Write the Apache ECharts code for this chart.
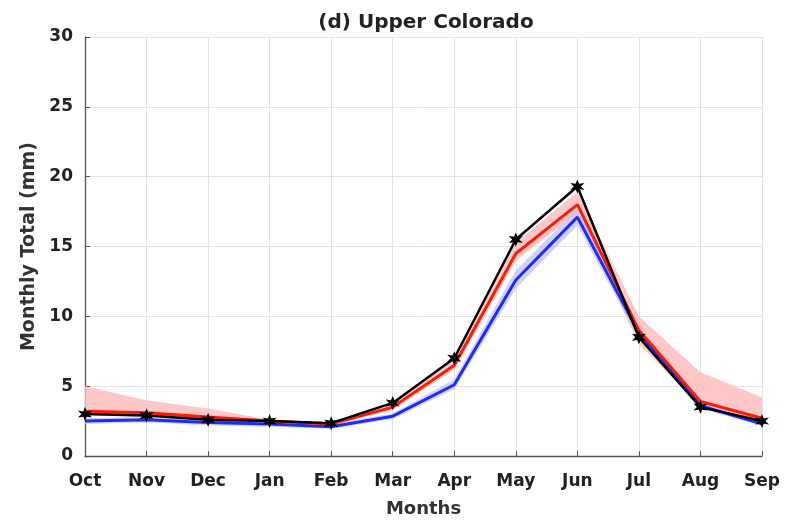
<!DOCTYPE html>
<html>
<head>
<meta charset="utf-8">
<script src="https://cdn.jsdelivr.net/npm/echarts@6/dist/echarts.min.js"></script>
<style>
  html, body { margin: 0; padding: 0; background: #fff; }
  #chart { width: 796px; height: 524px; }
</style>
</head>
<body>
<div id="chart"></div>
<script>
// Monthly totals (mm), water-year order
const months = ['Oct', 'Nov', 'Dec', 'Jan', 'Feb', 'Mar', 'Apr', 'May', 'Jun', 'Jul', 'Aug', 'Sep'];
const observed = [3.0, 2.9, 2.6, 2.5, 2.35, 3.8, 7.0, 15.5, 19.3, 8.5, 3.5, 2.5];
const redMean  = [3.2, 3.1, 2.8, 2.5, 2.3, 3.5, 6.5, 14.5, 18.0, 9.0, 3.9, 2.7];
const redLow   = [2.9, 2.8, 2.6, 2.4, 2.2, 3.3, 6.2, 14.0, 17.4, 8.0, 3.6, 2.5];
const redHigh  = [5.0, 4.0, 3.4, 2.6, 2.4, 3.7, 7.0, 15.3, 18.9, 10.0, 6.0, 4.2];
const blueMean = [2.5, 2.6, 2.4, 2.3, 2.1, 2.85, 5.1, 12.6, 17.1, 8.8, 3.6, 2.3];
const blueLow  = [2.3, 2.4, 2.2, 2.1, 1.95, 2.65, 4.8, 12.0, 16.5, 8.4, 3.4, 2.15];
const blueHigh = [2.7, 2.8, 2.6, 2.5, 2.3, 3.05, 5.5, 13.3, 17.7, 9.2, 3.8, 2.45];

const diff = (hi, lo) => hi.map((v, i) => +(v - lo[i]).toFixed(3));

const starPath = 'path://M50,0 L61,31 L93,25 L72,50 L93,75 L61,69 L50,100 L39,69 L7,75 L28,50 L7,25 L39,31 Z';
const fontFam = '"DejaVu Sans", Verdana, sans-serif';

// shaded range drawn as a transparent base plus a stacked filled height
function band(name, lo, hi, color) {
  return [
    { name: name + '-base', type: 'line', data: lo, stack: name, symbol: 'none',
      lineStyle: { opacity: 0 }, silent: true, z: 1 },
    { name: name + '-range', type: 'line', data: diff(hi, lo), stack: name, symbol: 'none',
      lineStyle: { opacity: 0 }, areaStyle: { color: color, opacity: 1 }, silent: true, z: 1 }
  ];
}

const chart = echarts.init(document.getElementById('chart'), null, { renderer: 'canvas' });
chart.setOption({
  animation: false,
  backgroundColor: '#fff',
  title: {
    text: '(d) Upper Colorado',
    left: 421, top: 8, textAlign: 'center',
    textStyle: { fontFamily: fontFam, fontWeight: 'bold', fontSize: 20, color: '#222' }
  },
  grid: { left: 85, right: 34, top: 37, bottom: 68, containLabel: false },
  xAxis: {
    type: 'category', data: months, boundaryGap: false,
    name: 'Months', nameLocation: 'middle', nameGap: 44,
    nameTextStyle: { fontFamily: fontFam, fontWeight: 'bold', fontSize: 18, color: '#333' },
    axisLine: { lineStyle: { color: '#555', width: 1.3 } },
    axisTick: { inside: true, length: 5, lineStyle: { color: '#555' } },
    axisLabel: { fontFamily: fontFam, fontWeight: 'bold', fontSize: 17, color: '#222', margin: 17 },
    splitLine: { show: true, lineStyle: { color: '#e3e3e3', width: 1 } }
  },
  yAxis: {
    type: 'value', min: 0, max: 30, interval: 5,
    name: 'Monthly Total (mm)', nameLocation: 'middle', nameGap: 45, nameRotate: 90,
    nameTextStyle: { fontFamily: fontFam, fontWeight: 'bold', fontSize: 19, color: '#333' },
    axisLine: { show: true, lineStyle: { color: '#555', width: 1.3 } },
    axisTick: { show: true, inside: true, length: 5, lineStyle: { color: '#555' } },
    axisLabel: { fontFamily: fontFam, fontWeight: 'bold', fontSize: 17, color: '#222', margin: 12 },
    splitLine: { show: true, lineStyle: { color: '#e3e3e3', width: 1 } }
  },
  series: [
    ...band('red', redLow, redHigh, 'rgba(255,190,190,0.85)'),
    ...band('blue', blueLow, blueHigh, 'rgba(190,190,255,0.7)'),
    { name: 'blue', type: 'line', data: blueMean, symbol: 'none',
      lineStyle: { color: '#1a2cff', width: 3 }, z: 3 },
    { name: 'red', type: 'line', data: redMean, symbol: 'none',
      lineStyle: { color: '#ff1a00', width: 3 }, z: 4 },
    { name: 'observed', type: 'line', data: observed, symbol: starPath, symbolSize: 14,
      itemStyle: { color: '#000' },
      lineStyle: { color: '#000', width: 2.5 }, z: 5 }
  ]
});
</script>
</body>
</html>
